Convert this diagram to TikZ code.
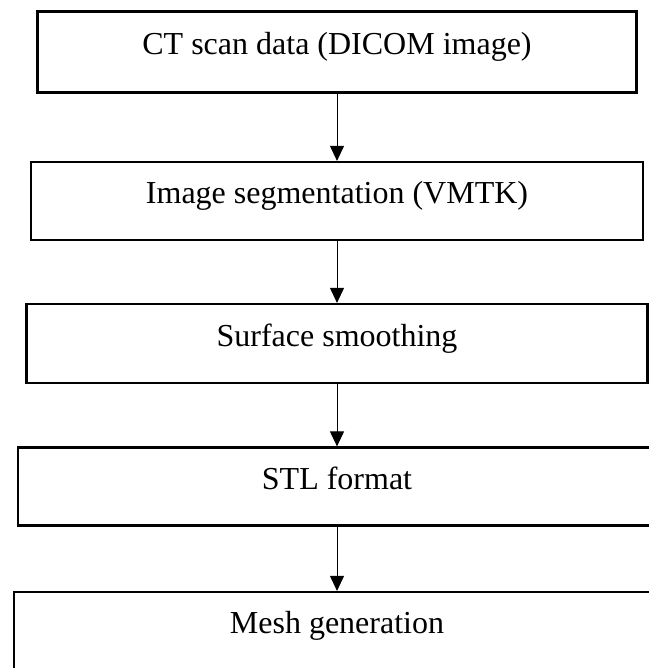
\documentclass[tikz,border=0pt]{standalone}
\usepackage{fontspec}
\setmainfont{Liberation Serif}
\usetikzlibrary{arrows.meta}
\tikzstyle{stage}=[draw, rectangle, line width=2.2pt, inner sep=0pt, font=\fontsize{32}{38}\selectfont, text height=22pt, text depth=17pt]
\tikzstyle{flow}=[line width=1pt, -{Triangle[width=14pt, length=15pt]}]

\begin{document}
\begin{tikzpicture}[x=1pt, y=-1pt]
          \useasboundingbox (0, 0) rectangle (648, 668);

          \node[stage, minimum width=599pt, minimum height=81pt] (scan) at (337, 52) {CT scan data (DICOM image)};
          \node[stage, minimum width=612pt, minimum height=78pt] (segment) at (337, 201) {Image segmentation (VMTK)};
          \node[stage, minimum width=621pt, minimum height=79pt] (smooth) at (337, 343.5) {Surface smoothing};
          \node[stage, minimum width=638pt, minimum height=78pt] (stl) at (337, 486.5) {STL format};
          \node[stage, minimum width=646pt, minimum height=78pt] (mesh) at (337, 631) {Mesh generation};

          \draw[flow] (scan) -- (segment);
          \draw[flow] (segment) -- (smooth);
          \draw[flow] (smooth) -- (stl);
          \draw[flow] (stl) -- (mesh);
        \end{tikzpicture}
\end{document}
